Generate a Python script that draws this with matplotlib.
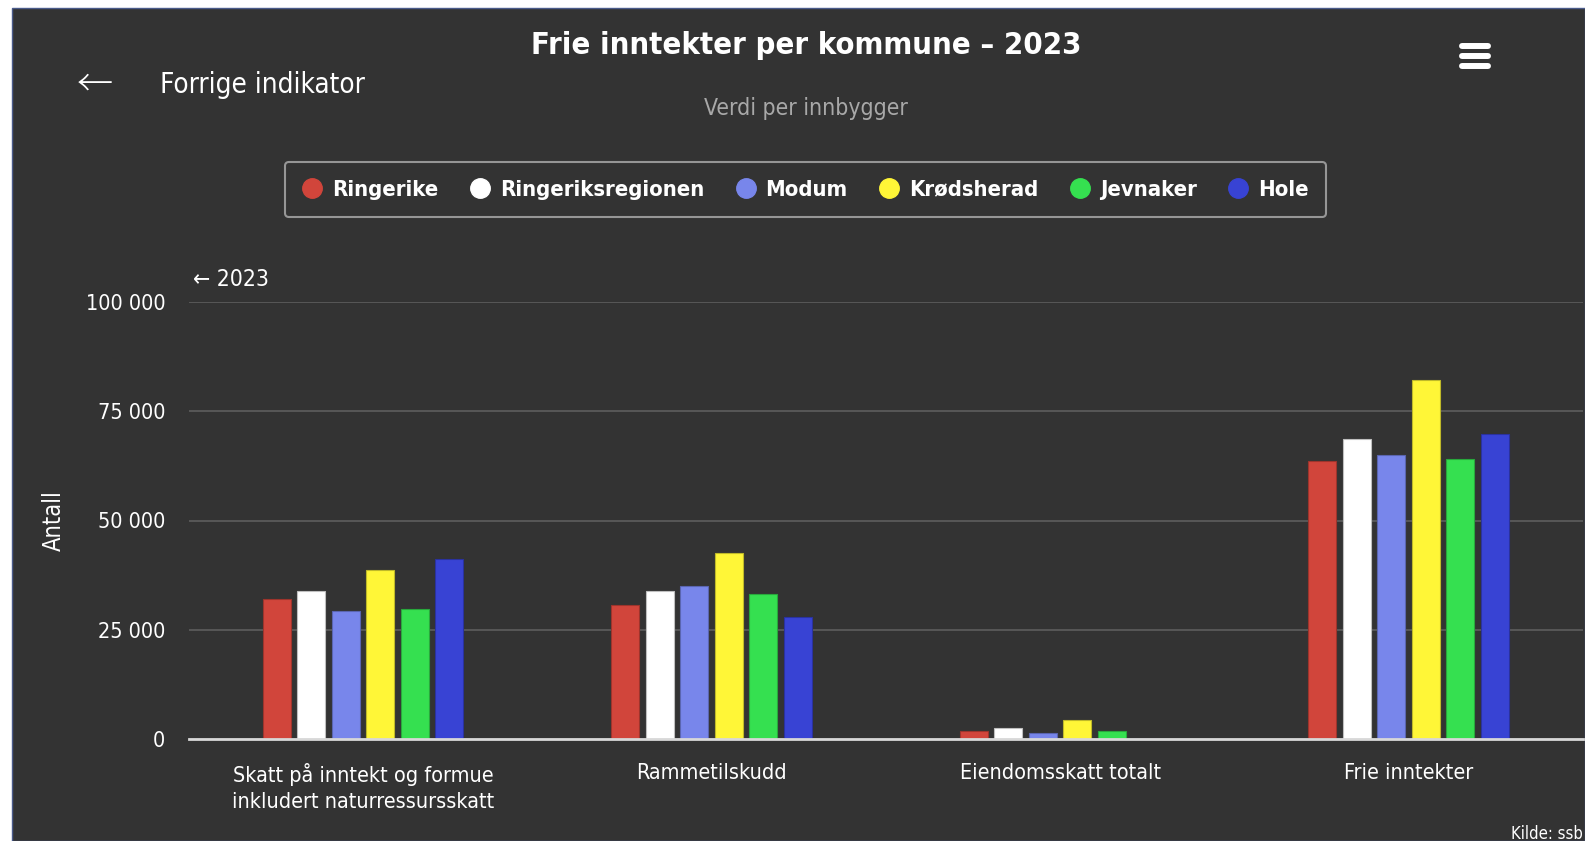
import numpy as np
import matplotlib.pyplot as plt
from matplotlib.lines import Line2D
from matplotlib.patches import Rectangle

W, H = 1585, 841

categories = ['Skatt på inntekt og formue\ninkludert naturressursskatt',
              'Rammetilskudd', 'Eiendomsskatt totalt', 'Frie inntekter']
kommuner = ['Ringerike', 'Ringeriksregionen', 'Modum', 'Krødsherad', 'Jevnaker', 'Hole']
colors = ['#d1453b', '#ffffff', '#7886eb', '#fff637', '#35e050', '#3843d4']

ringerike = [32100, 30800, 1900, 63500]
ringeriksregionen = [34000, 34000, 2500, 68700]
modum = [29400, 35000, 1500, 64900]
krodsherad = [38800, 42600, 4300, 82000]
jevnaker = [29800, 33100, 1800, 64000]
hole = [41200, 27900, 0, 69700]

yticks = [0, 25000, 50000, 75000, 100000]
ytick_labels = ['0', '25 000', '50 000', '75 000', '100 000']

BG = '#333333'
plt.rcParams['font.family'] = ['DejaVu Sans']
plt.rcParams['font.stretch'] = 'condensed'


def px(x, y):
    return x / W, 1 - y / H


def darker(c, f=0.75):
    r, g, b = [int(c[i:i + 2], 16) / 255 for i in (1, 3, 5)]
    return (r * f, g * f, b * f)


fig = plt.figure(figsize=(W / 100, H / 100), dpi=100)
fig.patch.set_facecolor('white')
fig.add_artist(Rectangle(px(12, H), (W - 12) / W, (H - 8) / H, transform=fig.transFigure,
                         facecolor=BG, edgecolor='#4a5b8a', linewidth=1, zorder=0))

left, right, top, bottom = 188.8, 1583, 301.7, 739.3
ax = fig.add_axes([left / W, 1 - bottom / H, (right - left) / W, (bottom - top) / H])
ax.set_facecolor('none')

series = [ringerike, ringeriksregionen, modum, krodsherad, jevnaker, hole]
x = np.arange(len(categories))
pitch, width = 0.099, 0.0804
for i, (name, vals, c) in enumerate(zip(kommuner, series, colors)):
    ax.bar(x + (i - 2.5) * pitch, vals, width, color=c, edgecolor=darker(c),
           linewidth=0.8, label=name, zorder=2)

ax.set_xlim(-0.5, 3.5)
ax.set_ylim(0, 100000)
ax.set_yticks(yticks)
ax.set_yticklabels(ytick_labels)
ax.set_xticks(x)
ax.set_xticklabels(categories, linespacing=1.4)
ax.grid(axis='y', color='#5e5e5e', linewidth=1.2, zorder=0)
ax.set_axisbelow(True)
for s in ['top', 'right', 'left']:
    ax.spines[s].set_visible(False)
ax.spines['bottom'].set_color('#d8d8d8')
ax.spines['bottom'].set_linewidth(2)
ax.spines['bottom'].set_zorder(3)
ax.tick_params(axis='both', length=0, colors='white', labelsize=15.5)
ax.tick_params(axis='y', pad=17)
ax.tick_params(axis='x', pad=17)
ax.set_ylabel('Antall', color='white', fontsize=17, labelpad=14)

# header
fig.text(*px(806, 46), 'Frie inntekter per kommune – 2023', color='white',
         fontsize=22.2, fontweight='bold', ha='center', va='center')
fig.text(*px(806, 109), 'Verdi per innbygger', color='#a8a8a8',
         fontsize=16.5, ha='center', va='center')
fig.text(*px(95, 85), '←', color='white', fontsize=26, ha='center', va='center',
         family=['Noto Sans CJK JP', 'DejaVu Sans'], fontweight='light')
fig.text(*px(160, 85), 'Forrige indikator', color='white', fontsize=20,
         ha='left', va='center')
for yy in (45.5, 55.6, 65.7):
    fig.add_artist(Line2D([1462 / W, 1488 / W], [1 - yy / H] * 2, color='white',
                          linewidth=4.3, solid_capstyle='round'))
fig.text(*px(193, 280), '← 2023', color='white', fontsize=16.5, ha='left', va='center')
fig.text(*px(1583, 834), 'Kilde: ssb', color='white', fontsize=12, ha='right', va='center')

handles = [Line2D([], [], marker='o', linestyle='none', markersize=14,
                  markerfacecolor=c, markeredgecolor=c) for c in colors]
leg = fig.legend(handles, kommuner, loc='center', bbox_to_anchor=px(805.5, 189.5),
                 ncol=6, frameon=True, fancybox=True, handlelength=0.9,
                 handletextpad=0.45, columnspacing=1.45, borderpad=0.8,
                 prop={'weight': 'bold', 'size': 15.8, 'stretch': 'condensed'})
leg.get_frame().set_facecolor(BG)
leg.get_frame().set_edgecolor('#b0b0b0')
leg.get_frame().set_linewidth(1.5)
for t in leg.get_texts():
    t.set_color('white')

fig.savefig('out.png', dpi=100, facecolor=fig.get_facecolor())
